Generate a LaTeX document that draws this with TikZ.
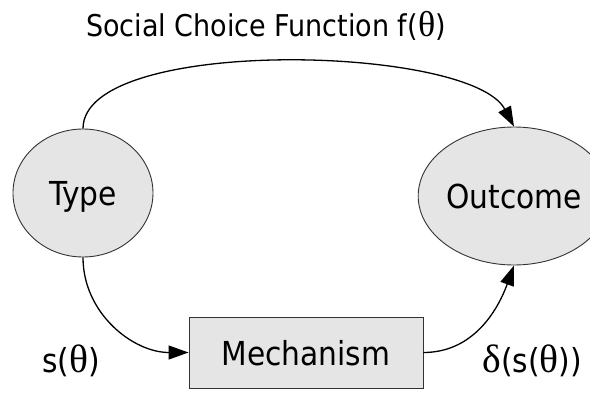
\documentclass[tikz,border=0pt]{standalone}
\usepackage{fontspec}
\setmainfont{DejaVu Sans Condensed}
\newfontfamily\grk[Scale=1.2]{Liberation Serif}
\usetikzlibrary{arrows.meta,shapes.geometric}
\newcommand\thet{{\grk θ}}
\tikzset{
  state/.style={ellipse, draw=black!80, fill=black!10, inner sep=0pt, line width=.9pt, text depth=0pt},
  mech/.style={rectangle, draw=black!80, fill=black!10, line width=.9pt, text depth=0pt, minimum width=234pt, minimum height=71pt},
  lbl/.style={font=\fontsize{33}{33}\selectfont, inner sep=0pt}
}
\begin{document}
\begin{tikzpicture}[x=1pt, y=1pt, >={Triangle[length=20pt,width=14pt]}, line width=1.3pt]
\useasboundingbox (0,0) rectangle (590,392);
\node[state, lbl, minimum width=140pt, minimum height=128pt] (type) at (83,199) {Type};
\node[state, lbl, minimum width=150pt, minimum height=138pt] (outc) at (514,196) {Outcome};
\node[mech, lbl] (mech) at (306,39.5) {Mechanism};

\node[lbl, font=\fontsize{30}{30}\selectfont] (scf) at (266,366) {Social Choice Function f(\thet)};
\node[lbl] (strat) at (71,31) {s(\thet)};
\node[lbl, anchor=west] (delta) at (482,31) {{\grk δ}(s(\thet))};

\draw[->](type.north) to[out=90, in=118, looseness=.55] (outc.north);
\draw[->](type.south) to[out=-90, in=180] (mech.west);
\draw[->](mech.east) to[out=0, in=-110] (outc.south);

\end{tikzpicture}
\end{document}
